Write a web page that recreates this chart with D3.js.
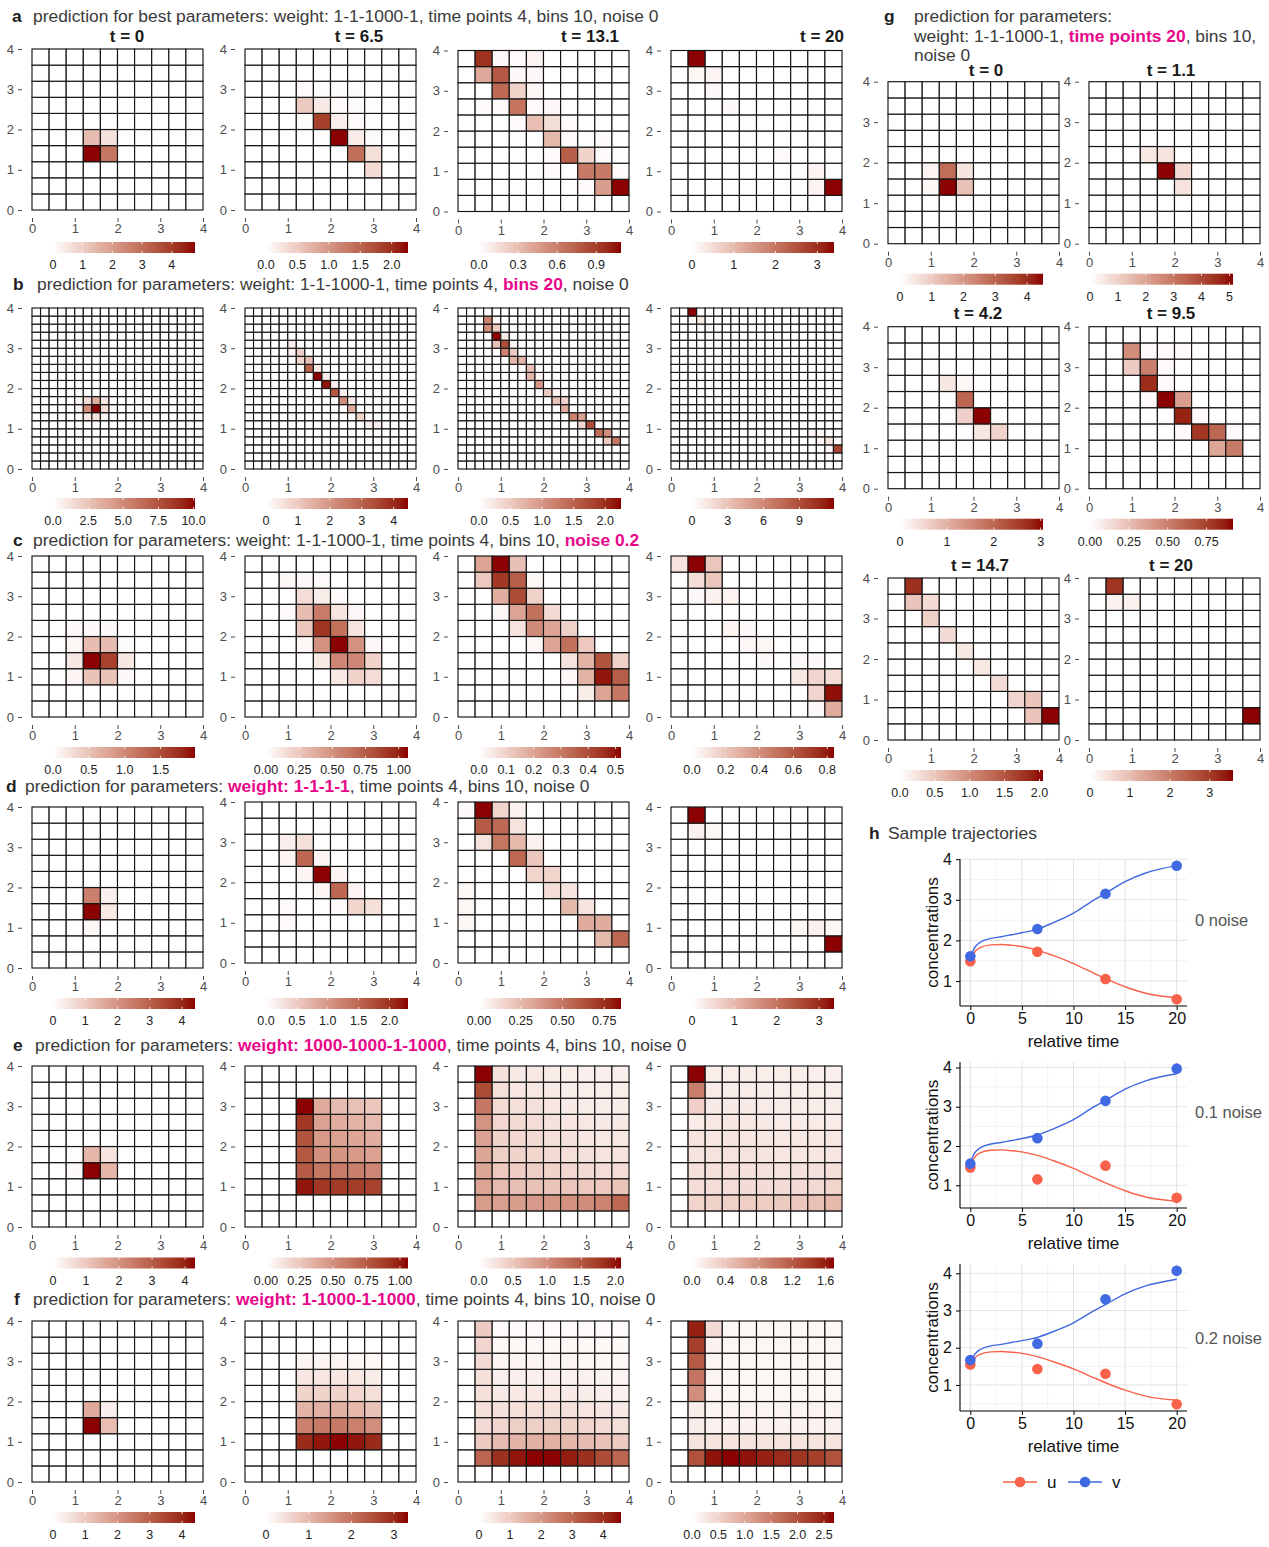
<!DOCTYPE html>
<html><head><meta charset="utf-8">
<script src="https://cdn.jsdelivr.net/npm/d3@7"></script>
<style>body{margin:0;background:#fff} svg{display:block} text{font-family:"Liberation Sans",Arial,Helvetica,sans-serif}</style>
</head><body><svg id="c" width="1269" height="1547"></svg>
<script>
// ---------------- DATA ----------------
// sparse heatmap cells: [column, row(from bottom), value]
const A0 = [[3,3,4.78],[4,3,2.8],[3,4,1.35],[4,4,0.6]];
const A1 = [[3,7,0.04],[4,7,0.03],[5,7,0.03],[6,7,0.03],[7,7,0.02],[3,6,0.5],[4,6,0.2],[5,6,0.04],[6,6,0.03],[7,6,0.02],[3,5,0.03],[4,5,1.85],[5,5,0.15],[6,5,0.04],[7,5,0.02],[4,4,0.02],[5,4,2.26],[6,4,0.18],[7,4,0.03],[5,3,0.02],[6,3,1.4],[7,3,0.3],[7,2,0.35]];
const A2 = [[1,9,0.95],[2,9,0.03],[3,9,0.02],[4,9,0.05],[1,8,0.4],[2,8,0.78],[3,8,0.03],[4,8,0.03],[2,7,0.7],[3,7,0.2],[4,7,0.04],[1,6,0.02],[2,6,0.02],[3,6,0.65],[4,6,0.02],[5,6,0.03],[3,5,0.02],[4,5,0.3],[5,5,0.15],[6,5,0.02],[5,4,0.32],[6,4,0.02],[8,4,0.02],[5,3,0.02],[6,3,0.75],[7,3,0.2],[8,3,0.02],[5,2,0.02],[7,2,0.62],[8,2,0.62],[9,2,0.02],[7,1,0.02],[8,1,0.45],[9,1,1.09]];
const A3 = [[1,9,3.4],[3,9,0.03],[1,8,0.12],[2,8,0.15],[2,7,0.1],[3,6,0.08],[4,5,0.03],[5,5,0.03],[6,3,0.07],[7,2,0.04],[8,2,0.15],[8,1,0.15],[9,1,3.4]];
const B0 = [[7,7,10.1],[6,7,5.0],[7,8,3.5],[8,7,1.5],[6,8,1.5],[8,8,1.0],[5,7,0.4],[6,6,1.0],[7,6,1.2],[8,6,0.4],[9,7,0.3],[5,8,0.2]];
const B1 = [[5,15,0.3],[6,14,0.9],[5,14,0.2],[6,13,0.8],[7,13,1.2],[7,12,3.0],[8,12,0.4],[8,11,4.45],[9,11,0.3],[9,10,4.3],[10,10,0.3],[10,9,3.2],[11,9,0.3],[11,8,2.2],[12,8,0.4],[12,7,1.6],[13,6,0.8],[14,5,0.3],[15,5,0.3]];
const B2 = [[3,18,1.2],[4,18,0.1],[3,17,1.1],[4,17,0.5],[4,16,2.25],[5,16,0.2],[4,15,0.6],[5,15,1.7],[5,14,1.2],[6,14,0.5],[6,13,0.7],[7,13,0.7],[8,12,0.6],[8,11,0.7],[9,10,1.0],[10,9,0.5],[11,8,0.6],[12,8,0.4],[12,7,0.8],[13,6,1.2],[14,6,0.9],[14,5,0.4],[15,5,1.7],[16,4,1.4],[17,4,1.1],[17,3,0.5],[18,3,1.3],[6,15,0.1],[9,11,0.1],[11,9,0.1]];
const B3 = [[2,19,11.9],[2,18,0.4],[3,18,1.0],[4,17,0.4],[5,16,0.2],[6,15,0.1],[8,13,0.1],[11,10,0.1],[15,5,0.3],[16,4,0.5],[17,4,0.4],[17,3,0.5],[18,3,1.3],[18,2,0.4],[19,2,9.5]];
const C0 = [[2,5,0.05],[3,5,0.05],[4,5,0.05],[2,4,0.06],[3,4,0.55],[4,4,0.55],[5,4,0.03],[2,3,0.2],[3,3,1.98],[4,3,1.6],[5,3,0.2],[2,2,0.08],[3,2,0.5],[4,2,0.5],[5,2,0.05]];
const C1 = [[2,8,0.04],[3,8,0.03],[4,8,0.02],[3,7,0.15],[4,7,0.08],[5,7,0.02],[2,6,0.02],[3,6,0.3],[4,6,0.6],[5,6,0.12],[6,6,0.03],[3,5,0.25],[4,5,0.92],[5,5,0.65],[6,5,0.12],[3,4,0.04],[4,4,0.5],[5,4,1.07],[6,4,0.5],[7,4,0.03],[4,3,0.1],[5,3,0.55],[6,3,0.55],[7,3,0.2],[5,2,0.1],[6,2,0.2],[7,2,0.15]];
const C2 = [[1,9,0.2],[2,9,0.52],[3,9,0.14],[1,8,0.12],[2,8,0.44],[3,8,0.36],[4,8,0.02],[2,7,0.18],[3,7,0.4],[4,7,0.1],[2,6,0.02],[3,6,0.2],[4,6,0.32],[5,6,0.08],[3,5,0.06],[4,5,0.26],[5,5,0.2],[6,5,0.1],[4,4,0.02],[5,4,0.2],[6,4,0.32],[7,4,0.12],[6,3,0.06],[7,3,0.17],[8,3,0.38],[9,3,0.1],[6,2,0.02],[7,2,0.17],[8,2,0.5],[9,2,0.36],[7,1,0.04],[8,1,0.2],[9,1,0.3]];
const C3 = [[0,9,0.1],[1,9,0.84],[2,9,0.2],[3,9,0.01],[0,8,0.01],[1,8,0.12],[2,8,0.2],[1,7,0.02],[2,7,0.05],[3,7,0.04],[3,5,0.04],[4,5,0.02],[4,4,0.03],[5,4,0.03],[5,3,0.02],[7,3,0.02],[8,3,0.02],[7,2,0.08],[8,2,0.15],[9,2,0.12],[8,1,0.15],[9,1,0.82],[8,0,0.02],[9,0,0.3]];
const D0 = [[3,3,4.4],[3,4,2.4],[4,4,0.3],[4,3,0.4],[3,2,0.15]];
const D1 = [[2,7,0.15],[3,7,0.3],[2,6,0.1],[3,6,1.5],[4,6,0.1],[4,5,2.3],[3,5,0.1],[5,5,0.1],[5,4,1.5],[4,4,0.1],[6,4,0.1],[6,3,0.4],[7,3,0.3],[5,3,0.05],[2,3,0.05],[2,2,0.05]];
const D2 = [[0,9,0.02],[1,9,0.85],[2,9,0.15],[3,9,0.05],[1,8,0.6],[2,8,0.55],[3,8,0.1],[1,7,0.1],[2,7,0.5],[3,7,0.25],[4,7,0.05],[3,6,0.55],[4,6,0.2],[4,5,0.15],[5,5,0.15],[5,4,0.12],[6,4,0.1],[6,3,0.25],[7,3,0.1],[7,2,0.3],[8,2,0.3],[8,1,0.25],[9,1,0.55],[0,4,0.03],[0,3,0.03],[0,2,0.03]];
const D3 = [[1,9,3.35],[1,8,0.2],[2,8,0.1],[7,2,0.1],[8,2,0.2],[9,2,0.1],[9,1,3.35]];
const E0 = [[3,3,4.3],[4,3,1.3],[3,4,1.3],[4,4,0.5],[2,3,0.1],[2,4,0.05]];
// dense heatmaps: rows listed from top (y 3.6-4.0) to bottom, 10 columns each
const E1 = [
 [0,0,0,0,0,0,0,0,0,0],[0,0,0,0,0,0,0,0,0,0],
 [0,0,0,1.06,0.38,0.3,0.28,0.25,0,0],
 [0,0,0,0.9,0.42,0.37,0.34,0.31,0,0],
 [0,0,0,0.78,0.46,0.42,0.4,0.37,0,0],
 [0,0,0,0.76,0.5,0.48,0.46,0.42,0,0],
 [0,0,0,0.75,0.62,0.6,0.58,0.55,0,0],
 [0,0,0,1.02,0.9,0.89,0.88,0.86,0,0],
 [0,0,0,0,0,0,0,0,0,0],[0,0,0,0,0,0,0,0,0,0]];
const E2 = [
 [0,2.08,0.25,0.18,0.2,0.16,0.15,0.14,0.14,0.14],
 [0,1.6,0.28,0.22,0.2,0.18,0.16,0.15,0.15,0.15],
 [0,1.2,0.32,0.28,0.26,0.22,0.18,0.16,0.16,0.16],
 [0,0.95,0.35,0.32,0.3,0.25,0.22,0.2,0.18,0.18],
 [0,0.82,0.38,0.35,0.33,0.28,0.25,0.22,0.2,0.2],
 [0,0.78,0.42,0.38,0.36,0.32,0.28,0.26,0.24,0.24],
 [0,0.78,0.48,0.44,0.42,0.38,0.35,0.32,0.3,0.3],
 [0,0.8,0.6,0.56,0.54,0.52,0.5,0.48,0.48,0.52],
 [0,0.88,0.85,0.87,0.9,0.92,0.98,1.02,1.1,1.35],
 [0,0,0,0,0,0,0,0,0,0]];
const E3 = [
 [0,1.7,0.12,0.12,0.13,0.12,0.12,0.12,0.11,0.11],
 [0,0.93,0.14,0.13,0.14,0.13,0.12,0.12,0.12,0.12],
 [0,0.34,0.15,0.15,0.15,0.14,0.13,0.13,0.13,0.13],
 [0,0.14,0.16,0.17,0.16,0.15,0.14,0.14,0.14,0.14],
 [0,0.2,0.18,0.19,0.18,0.17,0.16,0.16,0.16,0.16],
 [0,0.2,0.2,0.2,0.2,0.19,0.18,0.18,0.18,0.18],
 [0,0.22,0.22,0.22,0.22,0.21,0.2,0.21,0.21,0.22],
 [0,0.24,0.24,0.24,0.25,0.25,0.25,0.26,0.27,0.3],
 [0,0.3,0.32,0.33,0.35,0.36,0.38,0.4,0.44,0.5],
 [0,0,0,0,0,0,0,0,0,0]];
const F0 = [[3,3,4.4],[3,4,1.6],[4,3,1.2],[4,4,0.3]];
const F1 = [
 [0,0,0,0,0,0,0,0,0,0],[0,0,0,0,0,0,0,0,0,0],
 [0,0,0,0.15,0.15,0.15,0.12,0.1,0,0],
 [0,0,0,0.35,0.35,0.35,0.3,0.25,0,0],
 [0,0,0,0.6,0.6,0.6,0.55,0.45,0,0],
 [0,0,0,1.05,1.1,1.1,1.0,0.85,0,0],
 [0,0,0,1.8,1.9,1.9,1.8,1.6,0,0],
 [0,0,0,3.0,3.2,3.33,3.2,3.0,0,0],
 [0,0,0,0,0,0,0,0,0,0],[0,0,0,0,0,0,0,0,0,0]];
const F2 = [
 [0,1.0,0.1,0.1,0.1,0.1,0.1,0.1,0.1,0.1],
 [0,0.8,0.15,0.15,0.15,0.15,0.15,0.12,0.12,0.12],
 [0,0.7,0.2,0.2,0.2,0.2,0.2,0.18,0.15,0.15],
 [0,0.6,0.3,0.3,0.3,0.3,0.28,0.25,0.22,0.2],
 [0,0.6,0.4,0.42,0.42,0.42,0.4,0.35,0.3,0.28],
 [0,0.6,0.55,0.6,0.6,0.6,0.55,0.5,0.45,0.4],
 [0,0.7,0.8,0.9,0.9,0.9,0.85,0.8,0.7,0.6],
 [0,1.0,1.3,1.45,1.5,1.5,1.4,1.3,1.2,1.0],
 [0,3.0,4.0,4.4,4.57,4.57,4.3,4.0,3.5,3.0],
 [0,0,0,0,0,0,0,0,0,0]];
const F3 = [
 [0,2.5,0.4,0.1,0.1,0.1,0.1,0.1,0.1,0.1],
 [0,2.2,0.15,0.1,0.1,0.1,0.1,0.1,0.1,0.1],
 [0,1.9,0.12,0.1,0.1,0.1,0.1,0.1,0.1,0.1],
 [0,1.6,0.12,0.1,0.1,0.1,0.1,0.1,0.1,0.1],
 [0,1.3,0.12,0.1,0.1,0.1,0.1,0.1,0.1,0.1],
 [0,0.2,0.12,0.12,0.12,0.12,0.12,0.12,0.12,0.12],
 [0,0.2,0.15,0.15,0.15,0.15,0.15,0.15,0.15,0.15],
 [0,0.3,0.3,0.3,0.3,0.3,0.3,0.3,0.3,0.3],
 [0,2.0,2.6,2.69,2.6,2.5,2.4,2.3,2.2,2.0],
 [0,0,0,0,0,0,0,0,0,0]];
const G0 = [[2,4,0.2],[3,4,2.8],[4,4,0.5],[2,3,0.15],[3,3,4.5],[4,3,1.2]];
const G1 = [[3,5,0.5],[4,5,0.6],[4,4,5.13],[5,4,0.8],[5,3,0.6]];
const G2 = [[3,6,0.3],[4,6,0.1],[5,6,0.02],[6,6,0.02],[3,5,0.03],[4,5,2.0],[5,5,0.03],[3,4,0.02],[4,4,0.6],[5,4,3.05],[6,4,0.03],[4,3,0.02],[5,3,0.3],[6,3,0.55]];
const G3 = [[2,8,0.45],[3,8,0.02],[4,8,0.02],[5,8,0.02],[2,7,0.2],[3,7,0.5],[4,7,0.02],[3,6,0.82],[4,6,0.02],[3,5,0.02],[4,5,0.92],[5,5,0.38],[5,4,0.85],[6,4,0.02],[5,3,0.02],[6,3,0.78],[7,3,0.6],[8,3,0.02],[7,2,0.35],[8,2,0.52]];
const G4 = [[1,9,1.8],[1,8,0.5],[2,8,0.3],[2,7,0.4],[3,6,0.3],[4,5,0.2],[5,4,0.2],[6,3,0.3],[7,2,0.35],[8,2,0.5],[8,1,0.5],[9,1,2.05]];
const G5 = [[1,9,3.1],[1,8,0.2],[2,8,0.2],[3,7,0.05],[9,1,3.58],[8,2,0.05]];

// colour-bar tick labels for each heatmap
const ticksA = [["0","1","2","3","4"],["0.0","0.5","1.0","1.5","2.0"],["0.0","0.3","0.6","0.9"],["0","1","2","3"]];
const ticksB = [["0.0","2.5","5.0","7.5","10.0"],["0","1","2","3","4"],["0.0","0.5","1.0","1.5","2.0"],["0","3","6","9"]];
const ticksC = [["0.0","0.5","1.0","1.5"],["0.00","0.25","0.50","0.75","1.00"],["0.0","0.1","0.2","0.3","0.4","0.5"],["0.0","0.2","0.4","0.6","0.8"]];
const ticksD = [["0","1","2","3","4"],["0.0","0.5","1.0","1.5","2.0"],["0.00","0.25","0.50","0.75"],["0","1","2","3"]];
const ticksE = [["0","1","2","3","4"],["0.00","0.25","0.50","0.75","1.00"],["0.0","0.5","1.0","1.5","2.0"],["0.0","0.4","0.8","1.2","1.6"]];
const ticksF = [["0","1","2","3","4"],["0","1","2","3"],["0","1","2","3","4"],["0.0","0.5","1.0","1.5","2.0","2.5"]];
const ticksG = [["0","1","2","3","4"],["0","1","2","3","4","5"],["0","1","2","3"],["0.00","0.25","0.50","0.75"],["0.0","0.5","1.0","1.5","2.0"],["0","1","2","3"]];
const axisTicks = [0,1,2,3,4];
const timeLabels4 = ["t = 0","t = 6.5","t = 13.1","t = 20"];
const timeLabelsG = ["t = 0","t = 1.1","t = 4.2","t = 9.5","t = 14.7","t = 20"];

// trajectories (panel h)
const obsTime = [0, 6.5, 13.1, 20];
const uNoise0 = [1.49, 1.72, 1.05, 0.55], vNoise0 = [1.61, 2.28, 3.15, 3.84];
const uNoise1 = [1.45, 1.15, 1.5, 0.68], vNoise1 = [1.55, 2.2, 3.15, 3.97];
const uNoise2 = [1.55, 1.43, 1.30, 0.48], vNoise2 = [1.67, 2.11, 3.30, 4.07];
const curveTime = [0, 0.5, 1, 2, 3, 4, 5, 6.5, 8, 10, 12, 13.1, 15, 17, 20];
const curveU = [1.5, 1.74, 1.83, 1.89, 1.9, 1.88, 1.85, 1.76, 1.63, 1.43, 1.19, 1.06, 0.86, 0.7, 0.59];
const curveV = [1.6, 1.85, 1.96, 2.05, 2.09, 2.14, 2.19, 2.28, 2.43, 2.67, 3.0, 3.16, 3.45, 3.66, 3.84];
const noiseLabels = ["0 noise", "0.1 noise", "0.2 noise"];
const seriesNames = ["u", "v"];

// ---------------- DRAWING ----------------
const svg = d3.select("#c");
const PINK = "#E8078A", TXT = "#3a3a3a";
const defs = svg.append("defs");
let gradId = 0;

function toCells(m) {
  const out = [];
  m.forEach((row, r) => row.forEach((v, c) => { if (v > 0) out.push([c, m.length - 1 - r, v]); }));
  return out;
}

function heatmap(cells, n, gx, gy, gw, gh, tickLabels, cbx, cbw, cby) {
  const g = svg.append("g");
  const x = d3.scaleLinear().domain([0, 4]).range([gx, gx + gw]);
  const y = d3.scaleLinear().domain([0, 4]).range([gy + gh, gy]);
  const step = 4 / n;
  const vmax = d3.max(cells, d => d[2]);
  const col = d3.scaleLinear().domain([0, vmax]).range(["#ffffff", "#8b0000"]).interpolate(d3.interpolateLab);
  const map = new Map(cells.map(c => [c[0] + "," + c[1], c[2]]));
  const all = d3.cross(d3.range(n), d3.range(n));
  g.selectAll("rect").data(all).join("rect")
    .attr("x", d => x(d[0] * step)).attr("y", d => y((d[1] + 1) * step))
    .attr("width", x(step) - x(0)).attr("height", y(0) - y(step))
    .attr("fill", d => col(map.get(d[0] + "," + d[1]) || 0))
    .attr("stroke", "#151515").attr("stroke-width", 1.15);
  const ya = g.append("g").attr("transform", `translate(${gx - 10},0)`)
    .call(d3.axisLeft(y).tickValues(axisTicks).tickSize(4).tickPadding(4).tickFormat(d3.format("d")));
  ya.select(".domain").remove();
  ya.selectAll("line").attr("stroke", "#4d4d4d");
  ya.selectAll("text").attr("fill", "#4d4d4d").style("font-size", "13px").style("font-family", "Liberation Sans, Arial");
  const xa = g.append("g").attr("transform", `translate(0,${gy + gh + 8})`)
    .call(d3.axisBottom(x).tickValues(axisTicks).tickSize(4).tickPadding(2).tickFormat(d3.format("d")));
  xa.select(".domain").remove();
  xa.selectAll("line").attr("stroke", "#4d4d4d");
  xa.selectAll("text").attr("fill", "#4d4d4d").style("font-size", "13px").style("font-family", "Liberation Sans, Arial");
  const id = "gr" + (gradId++);
  const lg = defs.append("linearGradient").attr("id", id);
  d3.range(0, 1.0001, 0.05).forEach(t => lg.append("stop").attr("offset", t).attr("stop-color", col(t * vmax)));
  const cbh = 11;
  g.append("rect").attr("x", cbx).attr("y", cby).attr("width", cbw).attr("height", cbh).attr("fill", `url(#${id})`);
  const cs = d3.scaleLinear().domain([0, vmax]).range([cbx, cbx + cbw]);
  tickLabels.forEach(s => {
    const px = cs(+s);
    g.append("line").attr("x1", px).attr("x2", px).attr("y1", cby).attr("y2", cby + 2.2).attr("stroke", "#fff").attr("stroke-width", 0.8);
    g.append("line").attr("x1", px).attr("x2", px).attr("y1", cby + cbh - 2.2).attr("y2", cby + cbh).attr("stroke", "#fff").attr("stroke-width", 0.8);
    g.append("text").attr("x", px).attr("y", cby + cbh + 16).attr("text-anchor", "middle")
      .attr("fill", "#222").style("font-size", "12.5px").text(s);
  });
}

function title(x, y, letter, parts, letterX) {
  svg.append("text").attr("x", letterX).attr("y", y).attr("font-weight", "bold").attr("fill", "#222")
    .style("font-size", "17.4px").text(letter);
  const t = svg.append("text").attr("x", x).attr("y", y).attr("fill", TXT).style("font-size", "17.4px");
  parts.forEach(p => t.append("tspan").attr("fill", p[1] ? PINK : TXT).attr("font-weight", p[1] ? "bold" : "normal").text(p[0]));
}

// main columns a-f
const colLeft = [32, 245, 458, 671];
const gridW = 171, gridH = 161;
const rowTop = [49, 308, 556, 807, 1066, 1321];
const cbOff = [32, 29, 30, 30, 30.5, 30];
const colShift = [[0, 0, 1.5, 1.5], [0, 0, 0, 0], [0, 0, 0, 0], [0, -5, -5, 0], [0, 0, 0, 0], [0, 0, 0, 0]];
const rowsData = [[A0, A1, A2, A3], [B0, B1, B2, B3], [C0, C1, C2, C3], [D0, D1, D2, D3], [E0, toCells(E1), toCells(E2), toCells(E3)], [F0, toCells(F1), toCells(F2), toCells(F3)]];
const rowsTicks = [ticksA, ticksB, ticksC, ticksD, ticksE, ticksF];
const rowN = [10, 20, 10, 10, 10, 10];
rowsData.forEach((row, r) => {
  row.forEach((cells, c) => {
    const gy = rowTop[r] + colShift[r][c];
    const gb = rowTop[r] + gridH;
    heatmap(cells, rowN[r], colLeft[c], gy, gridW, gridH, rowsTicks[r][c], colLeft[c] + 21, 142, gb + cbOff[r]);
  });
});

const facetX = [127, 359, 590, 822];
timeLabels4.forEach((s, i) => svg.append("text").attr("x", facetX[i]).attr("y", 42).attr("text-anchor", "middle")
  .attr("font-weight", "bold").attr("fill", "#1a1a1a").style("font-size", "17px").text(s));

title(33, 22, "a", [["prediction for best parameters: weight: 1-1-1000-1, time points 4, bins 10, noise 0", false]], 12);
title(37, 290, "b", [["prediction for parameters: weight: 1-1-1000-1, time points 4, ", false], ["bins 20", true], [", noise 0", false]], 13);
title(33, 546, "c", [["prediction for parameters: weight: 1-1-1000-1, time points 4, bins 10, ", false], ["noise 0.2", true]], 13);
title(25, 792, "d", [["prediction for parameters: ", false], ["weight: 1-1-1-1", true], [", time points 4, bins 10, noise 0", false]], 6);
title(35, 1051, "e", [["prediction for parameters: ", false], ["weight: 1000-1000-1-1000", true], [", time points 4, bins 10, noise 0", false]], 13);
title(33, 1305, "f", [["prediction for parameters: ", false], ["weight: 1-1000-1-1000", true], [", time points 4, bins 10, noise 0", false]], 14);

// panel g
const gColLeft = [888, 1089];
const gRowTop = [81.7, 326.7, 578];
const gData = [G0, G1, G2, G3, G4, G5];
const gFacetX = [[986, 1171], [978, 1171], [980, 1171]];
const gFacetY = [75.5, 319, 571];
const gCbLeft = [900, 1090];
gData.forEach((cells, k) => {
  const r = Math.floor(k / 2), c = k % 2;
  heatmap(cells, 10, gColLeft[c], gRowTop[r], 171, 162, ticksG[k], gCbLeft[c], 143, gRowTop[r] + 162 + 30);
  svg.append("text").attr("x", gFacetX[r][c]).attr("y", gFacetY[r]).attr("text-anchor", "middle")
    .attr("font-weight", "bold").attr("fill", "#1a1a1a").style("font-size", "17px").text(timeLabelsG[k]);
});
title(914, 22, "g", [["prediction for parameters:", false]], 884);
title(914, 42, "", [["weight: 1-1-1000-1, ", false], ["time points 20", true], [", bins 10,", false]], 884);
title(914, 61, "", [["noise 0", false]], 884);

// panel h
title(888, 839, "h", [["Sample trajectories", false]], 869);
const COLU = "#F8624A", COLV = "#4169E1";
const hX = d3.scaleLinear().domain([-1, 21]).range([960, 1187]);
const hRanges = [[1006, 859], [1208, 1062], [1411, 1264]];
const hPts = [[uNoise0, vNoise0], [uNoise1, vNoise1], [uNoise2, vNoise2]];
const noiseY = [926, 1118, 1344];
hPts.forEach((pts, k) => {
  const all = pts[0].concat(pts[1], curveU, curveV);
  const [lo, hi] = d3.extent(all);
  const pad = (hi - lo) * 0.05;
  const y = d3.scaleLinear().domain([lo - pad, hi + pad]).range(hRanges[k]);
  const g = svg.append("g");
  const [yb, yt] = hRanges[k];
  const inY = v => y(v) <= yb && y(v) >= yt;
  [2.5, 7.5, 12.5, 17.5].forEach(v => g.append("line").attr("x1", hX(v)).attr("x2", hX(v)).attr("y1", yb).attr("y2", yt).attr("stroke", "#ececec").attr("stroke-width", 0.7));
  [0, 5, 10, 15, 20].forEach(v => g.append("line").attr("x1", hX(v)).attr("x2", hX(v)).attr("y1", yb).attr("y2", yt).attr("stroke", "#e3e3e3").attr("stroke-width", 1.1));
  [0.5, 1.5, 2.5, 3.5].filter(inY).forEach(v => g.append("line").attr("x1", 960).attr("x2", 1187).attr("y1", y(v)).attr("y2", y(v)).attr("stroke", "#ececec").attr("stroke-width", 0.7));
  [1, 2, 3, 4].filter(inY).forEach(v => g.append("line").attr("x1", 960).attr("x2", 1187).attr("y1", y(v)).attr("y2", y(v)).attr("stroke", "#e3e3e3").attr("stroke-width", 1.1));
  const line = d3.line().x(d => hX(d[0])).y(d => y(d[1])).curve(d3.curveMonotoneX);
  g.append("path").attr("d", line(curveTime.map((t, i) => [t, curveU[i]]))).attr("fill", "none").attr("stroke", COLU).attr("stroke-width", 1.4);
  g.append("path").attr("d", line(curveTime.map((t, i) => [t, curveV[i]]))).attr("fill", "none").attr("stroke", COLV).attr("stroke-width", 1.4);
  g.selectAll(".pu").data(obsTime).join("circle").attr("cx", d => hX(d)).attr("cy", (d, i) => y(pts[0][i])).attr("r", 5.3).attr("fill", COLU);
  g.selectAll(".pv").data(obsTime).join("circle").attr("cx", d => hX(d)).attr("cy", (d, i) => y(pts[1][i])).attr("r", 5.3).attr("fill", COLV);
  const xa = g.append("g").attr("transform", `translate(0,${yb})`).call(d3.axisBottom(hX).tickValues([0, 5, 10, 15, 20]).tickSize(4).tickPadding(3));
  const ya = g.append("g").attr("transform", `translate(960,0)`).call(d3.axisLeft(y).tickValues([1, 2, 3, 4].filter(inY)).tickSize(4).tickPadding(4).tickFormat(d3.format("d")));
  [xa, ya].forEach(a => {
    a.select(".domain").attr("stroke", "#000").attr("stroke-width", 1.1);
    a.selectAll("text").attr("fill", "#111").style("font-size", "16px").style("font-family", "Liberation Sans, Arial");
  });
  xa.select(".domain").attr("d", `M960,0H1187`);
  ya.select(".domain").attr("d", `M0,${yb}V${yt}`);
  g.append("text").attr("x", (960 + 1187) / 2).attr("y", yb + 41).attr("text-anchor", "middle").attr("fill", "#111").style("font-size", "17px").text("relative time");
  g.append("text").attr("transform", `translate(938,${(yb + yt) / 2}) rotate(-90)`).attr("text-anchor", "middle").attr("fill", "#111").style("font-size", "17px").text("concentrations");
  g.append("text").attr("x", 1195).attr("y", noiseY[k]).attr("fill", "#555").style("font-size", "16.5px").text(noiseLabels[k]);
});
const legX = [1003, 1068];
[COLU, COLV].forEach((c, i) => {
  svg.append("line").attr("x1", legX[i]).attr("x2", legX[i] + 34).attr("y1", 1482).attr("y2", 1482).attr("stroke", c).attr("stroke-width", 1.4);
  svg.append("circle").attr("cx", legX[i] + 17).attr("cy", 1482).attr("r", 5.3).attr("fill", c);
  svg.append("text").attr("x", legX[i] + 44).attr("y", 1488).attr("fill", "#111").style("font-size", "17px").text(seriesNames[i]);
});
</script></body></html>
